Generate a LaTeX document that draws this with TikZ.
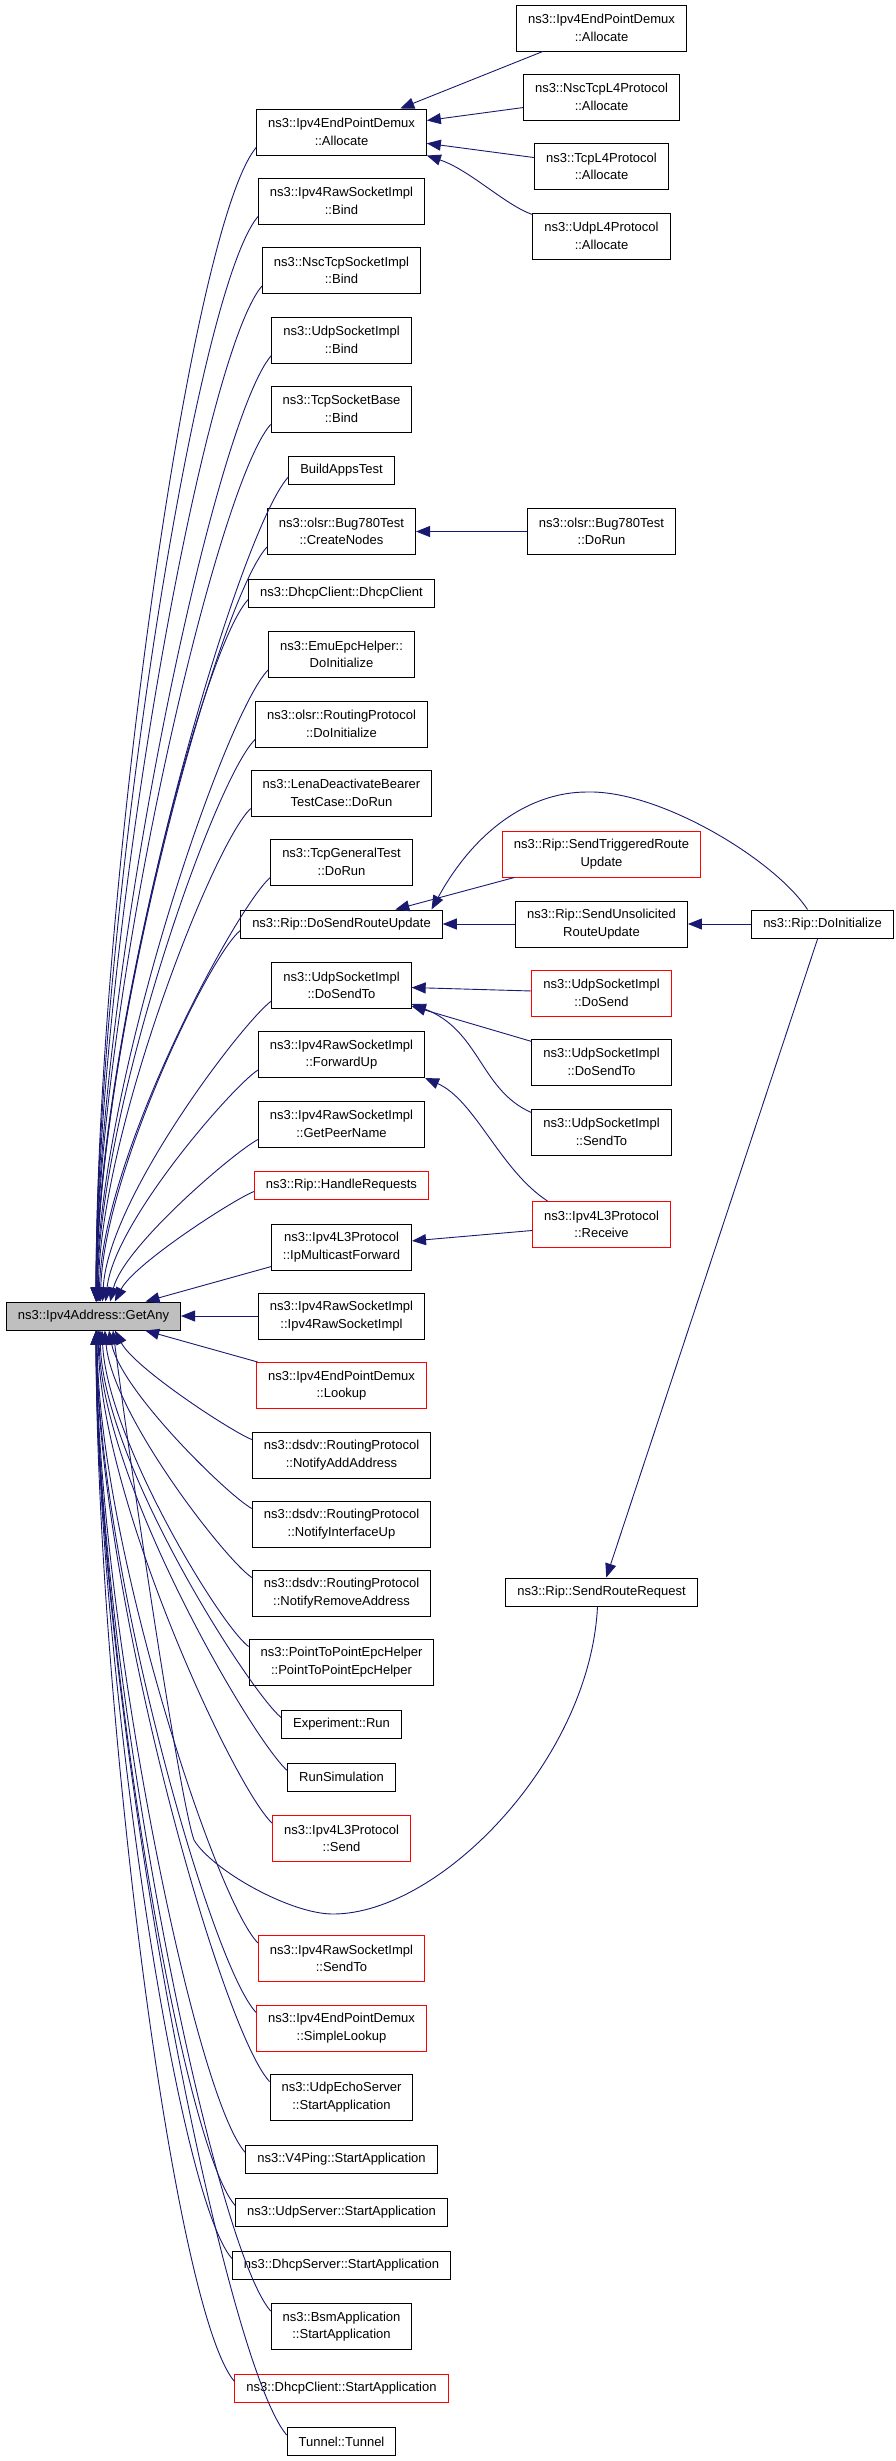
\documentclass[tikz,border=0pt]{standalone}
\usepackage{fontspec}
\setmainfont{Liberation Sans}
\usetikzlibrary{arrows.meta}

\definecolor{edgeblue}{RGB}{25,25,112}
\definecolor{rootgray}{RGB}{191,191,191}

\tikzset{
  fn/.style={draw=black, line width=1pt, align=center, inner xsep=11.5pt, inner ysep=0pt,
    font=\fontsize{13}{17.5}\selectfont},
  one/.style={fn, minimum height=28pt},
  two/.style={fn, minimum height=46pt},
  redbox/.style={draw=red},
  call/.style={draw=edgeblue, line width=0.9pt, -{Triangle[length=14pt,width=11pt]}},
}

\begin{document}
\begin{tikzpicture}[x=1pt,y=-1pt]

  \useasboundingbox (0,0) rectangle (896,2461);

  \def\colb{341.5}
  \def\colc{601.5}

  % the function itself
  \node[one, fill=rootgray] (getany) at (93.5,1316) {ns3::Ipv4Address::GetAny};

  % direct callers
  \node[two] (alloc) at (\colb,132) {ns3::Ipv4EndPointDemux\\::Allocate};
  \node[two] (rawbind) at (\colb,201) {ns3::Ipv4RawSocketImpl\\::Bind};
  \node[two] (nscbind) at (\colb,270.5) {ns3::NscTcpSocketImpl\\::Bind};
  \node[two] (udpbind) at (\colb,340) {ns3::UdpSocketImpl\\::Bind};
  \node[two] (tcpbind) at (\colb,409) {ns3::TcpSocketBase\\::Bind};
  \node[one] (buildapps) at (\colb,470.5) {BuildAppsTest};
  \node[two] (createnodes) at (\colb,531.5) {ns3::olsr::Bug780Test\\::CreateNodes};
  \node[one] (dhcpclient) at (\colb,593) {ns3::DhcpClient::DhcpClient};
  \node[two] (emuepc) at (\colb,654.5) {ns3::EmuEpcHelper::\\DoInitialize};
  \node[two] (olsrinit) at (\colb,724) {ns3::olsr::RoutingProtocol\\::DoInitialize};
  \node[two] (lena) at (\colb,793) {ns3::LenaDeactivateBearer\\TestCase::DoRun};
  \node[two] (tcpgeneral) at (\colb,862) {ns3::TcpGeneralTest\\::DoRun};
  \node[one] (dosendru) at (\colb,924) {ns3::Rip::DoSendRouteUpdate};
  \node[two] (dosendto) at (\colb,985.5) {ns3::UdpSocketImpl\\::DoSendTo};
  \node[two] (forwardup) at (\colb,1054.5) {ns3::Ipv4RawSocketImpl\\::ForwardUp};
  \node[two] (getpeer) at (\colb,1124) {ns3::Ipv4RawSocketImpl\\::GetPeerName};
  \node[one, redbox] (handlereq) at (\colb,1185) {ns3::Rip::HandleRequests};
  \node[two] (ipmcast) at (\colb,1247) {ns3::Ipv4L3Protocol\\::IpMulticastForward};
  \node[two] (rawctor) at (\colb,1316) {ns3::Ipv4RawSocketImpl\\::Ipv4RawSocketImpl};
  \node[two, redbox] (lookup) at (\colb,1385.5) {ns3::Ipv4EndPointDemux\\::Lookup};
  \node[two] (notifyadd) at (\colb,1455) {ns3::dsdv::RoutingProtocol\\::NotifyAddAddress};
  \node[two] (notifyup) at (\colb,1524) {ns3::dsdv::RoutingProtocol\\::NotifyInterfaceUp};
  \node[two] (notifyrm) at (\colb,1593) {ns3::dsdv::RoutingProtocol\\::NotifyRemoveAddress};
  \node[two] (p2pepc) at (\colb,1662) {ns3::PointToPointEpcHelper\\::PointToPointEpcHelper};
  \node[one] (exprun) at (\colb,1724) {Experiment::Run};
  \node[one] (runsim) at (\colb,1777) {RunSimulation};
  \node[two, redbox] (l3send) at (\colb,1838.5) {ns3::Ipv4L3Protocol\\::Send};
  \node[two, redbox] (rawsendto) at (\colb,1958.5) {ns3::Ipv4RawSocketImpl\\::SendTo};
  \node[two, redbox] (simplelookup) at (\colb,2028) {ns3::Ipv4EndPointDemux\\::SimpleLookup};
  \node[two] (echostart) at (\colb,2097) {ns3::UdpEchoServer\\::StartApplication};
  \node[one] (v4ping) at (\colb,2159) {ns3::V4Ping::StartApplication};
  \node[one] (udpserver) at (\colb,2212) {ns3::UdpServer::StartApplication};
  \node[one] (dhcpserver) at (\colb,2265) {ns3::DhcpServer::StartApplication};
  \node[two] (bsm) at (\colb,2326.5) {ns3::BsmApplication\\::StartApplication};
  \node[one, redbox] (dhcpcstart) at (\colb,2388) {ns3::DhcpClient::StartApplication};
  \node[one] (tunnel) at (\colb,2441.5) {Tunnel::Tunnel};

  % second level callers
  \node[two] (epdalloc) at (\colc,28) {ns3::Ipv4EndPointDemux\\::Allocate};
  \node[two] (nscl4) at (\colc,97) {ns3::NscTcpL4Protocol\\::Allocate};
  \node[two] (tcpl4) at (\colc,166.5) {ns3::TcpL4Protocol\\::Allocate};
  \node[two] (udpl4) at (\colc,236) {ns3::UdpL4Protocol\\::Allocate};
  \node[two] (bugrun) at (\colc,531.5) {ns3::olsr::Bug780Test\\::DoRun};
  \node[two, redbox] (trigger) at (\colc,854) {ns3::Rip::SendTriggeredRoute\\Update};
  \node[two] (unsolicited) at (\colc,924) {ns3::Rip::SendUnsolicited\\RouteUpdate};
  \node[two, redbox] (dosend) at (\colc,993) {ns3::UdpSocketImpl\\::DoSend};
  \node[two] (udpdosendto) at (\colc,1062) {ns3::UdpSocketImpl\\::DoSendTo};
  \node[two] (udpsendto) at (\colc,1132) {ns3::UdpSocketImpl\\::SendTo};
  \node[two, redbox] (receive) at (\colc,1224.5) {ns3::Ipv4L3Protocol\\::Receive};
  \node[one] (sendrr) at (\colc,1592) {ns3::Rip::SendRouteRequest};

  % third level
  \node[one] (ripinit) at (822.5,924) {ns3::Rip::DoInitialize};

  % callers above the root
  \foreach \nd/\dd in {alloc/1155, rawbind/1086, nscbind/1017, udpbind/947, tcpbind/878,
      buildapps/826, createnodes/756, dhcpclient/703, emuepc/633, olsrinit/563, lena/494,
      tcpgeneral/425, dosendru/372, dosendto/302, forwardup/233, getpeer/163, handlereq/111}
  {
       \pgfmathsetmacro\ax{-(15+0.045*\dd)}
       \pgfmathsetmacro\ay{0.07*\dd}
       \pgfmathsetmacro\bx{40*exp(-\dd/150)}
       \pgfmathsetmacro\by{-0.34*\dd}
       \pgfmathsetmacro\tx{90+35*exp(-\dd/180)}
       \draw[call] ([yshift=8pt]\nd.south west) .. controls +(\ax,\ay) and +(\bx,\by) .. ([xshift=\tx pt]getany.north west);
  }

  % callers below the root
  \foreach \nd/\dd in {notifyadd/110, notifyup/179, notifyrm/248, p2pepc/317, exprun/388,
      runsim/441, l3send/494, rawsendto/614, simplelookup/683, echostart/752, v4ping/823,
      udpserver/876, dhcpserver/929, bsm/982, dhcpcstart/1052, tunnel/1105}
  {
       \pgfmathsetmacro\ax{-(15+0.045*\dd)}
       \pgfmathsetmacro\ay{-0.07*\dd}
       \pgfmathsetmacro\bx{40*exp(-\dd/150)}
       \pgfmathsetmacro\by{0.34*\dd}
       \pgfmathsetmacro\tx{90+35*exp(-\dd/180)}
       \draw[call] ([yshift=-8pt]\nd.north west) .. controls +(\ax,\ay) and +(\bx,\by) .. ([xshift=\tx pt]getany.south west);
  }

  % straight ones next to the root
  \draw[call] (ipmcast) -- (getany);
  \draw[call] (rawctor) -- (getany);
  \draw[call] (lookup) -- (getany);

  % second level edges
  \draw[call] (epdalloc) -- (alloc);
  \draw[call] (nscl4) -- (alloc);
  \draw[call] (tcpl4) -- (alloc);
  \draw[call] ([yshift=-2pt]udpl4.north west) .. controls (505,205) and (470,170) .. (alloc.south east);
  \draw[call] (bugrun) -- (createnodes);
  \draw[call] (trigger) -- (dosendru);
  \draw[call] (unsolicited) -- (dosendru);
  \draw[call] (dosend) -- (dosendto);
  \draw[call] (udpdosendto) -- (dosendto);
  \draw[call] ([yshift=-4pt]udpsendto.north west) .. controls (480,1090) and (480,1030) .. ([yshift=5pt]dosendto.south east);
  \draw[call] ([xshift=-54pt]receive.north) .. controls (500,1170) and (475,1100) .. (forwardup.south east);
  \draw[call] (receive) -- (ipmcast);

  % Rip::DoInitialize
  \draw[call] (ripinit) -- (unsolicited);
  \draw[call] ([xshift=-15pt]ripinit.north) .. controls (775,860) and (660,790) .. (587,792)
      .. controls (530,792) and (475,830) .. ([xshift=90pt]dosendru.north);
  \draw[call] (ripinit) -- (sendrr);

  % long way back round to the root
  \draw[call] ([xshift=-4pt]sendrr.south) .. controls (590,1760) and (440,1914) .. (333,1914)
      .. controls (290,1914) and (212,1870) .. (194,1840)
      .. controls (180,1800) and (135,1500) .. ([xshift=107pt]getany.south west);

\end{tikzpicture}
\end{document}
